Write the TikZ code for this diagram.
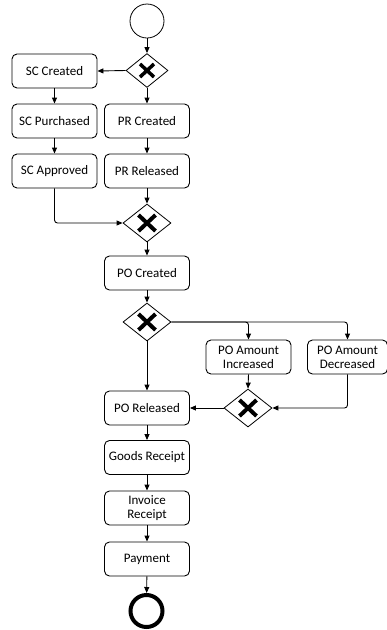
\documentclass[tikz,border=0pt]{standalone}
\usepackage{fontspec}
\setmainfont{Carlito}
\usetikzlibrary{arrows.meta,shapes.geometric}
\begin{document}
\begin{tikzpicture}[x=1pt,y=-1pt,
  task/.style={draw,rounded corners=5pt,minimum width=85pt,minimum height=34pt,
    align=center,font=\fontsize{13}{14}\selectfont,inner sep=1pt,line width=0.9pt},
  gate/.style={draw,diamond,minimum width=48pt,minimum height=38pt,inner sep=0pt,line width=0.8pt},
  smallgate/.style={gate,minimum width=42pt,minimum height=34pt},
  xmark/.style={line width=4pt},
  flow/.style={-{Triangle[length=6pt,width=5pt]},line width=0.9pt,rounded corners=3pt}]
\useasboundingbox (0,0) rectangle (387,630);

% events
\node[draw,circle,minimum size=34pt,line width=0.8pt,inner sep=0pt] (start) at (147,21) {};
\node[draw,circle,minimum size=32pt,line width=4pt,inner sep=0pt] (end) at (146.5,611) {};

% gateways
\node[smallgate] (g1) at (147,70.5) {};
\node[gate] (g2) at (147,223) {};
\node[gate] (g3) at (147,322) {};
\node[gate] (g4) at (248,408) {};

% exclusive markers
\draw[line width=3.5pt] ([shift={(-7,-6.5)}]g1.center) -- ([shift={(7,6.5)}]g1.center)
                        ([shift={(-7,6.5)}]g1.center) -- ([shift={(7,-6.5)}]g1.center);
\foreach \g in {g2,g3,g4}{
  \draw[xmark] ([shift={(-8.5,-8)}]\g.center) -- ([shift={(8.5,8)}]\g.center)
               ([shift={(-8.5,8)}]\g.center) -- ([shift={(8.5,-8)}]\g.center);
}

% tasks
\node[task] (scc) at (54.5,71) {SC Created};
\node[task] (scp) at (54.5,121) {SC Purchased};
\node[task] (sca) at (54.5,171) {SC Approved};
\node[task] (prc) at (147,121) {PR Created};
\node[task] (prr) at (147,171) {PR Released};
\node[task] (poc) at (147,273) {PO Created};
\node[task] (inc) at (248.5,357) {PO Amount\\Increased};
\node[task,minimum width=80pt] (dec) at (347.5,357) {PO Amount\\Decreased};
\node[task] (por) at (147,408) {PO Released};
\node[task] (gr) at (147,457.5) {Goods Receipt};
\node[task] (ir) at (147,508) {Invoice\\Receipt};
\node[task] (pay) at (147,559) {Payment};

% sequence flows
\draw[flow] (start) -- (g1);
\draw[flow] (g1.west) -- (scc.east);
\draw[flow] (g1.south) -- (prc.north);
\draw[flow] (scc) -- (scp);
\draw[flow] (scp) -- (sca);
\draw[flow] (prc) -- (prr);
\draw[flow] (prr.south) -- (g2.north);
\draw[flow] (sca.south) |- (g2.west);
\draw[flow] (g2.south) -- (poc.north);
\draw[flow] (poc.south) -- (g3.north);
\draw[flow] (g3.south) -- (por.north);
\draw[flow] (g3.east) -| (inc.north);
\draw[flow] (g3.east) -| (dec.north);
\draw[flow] (inc.south) -- (g4.north);
\draw[flow] (dec.south) |- (g4.east);
\draw[flow] (g4.west) -- (por.east);
\draw[flow] (por) -- (gr);
\draw[flow] (gr) -- (ir);
\draw[flow] (ir) -- (pay);
\draw[flow] (pay) -- (end);
\end{tikzpicture}
\end{document}
